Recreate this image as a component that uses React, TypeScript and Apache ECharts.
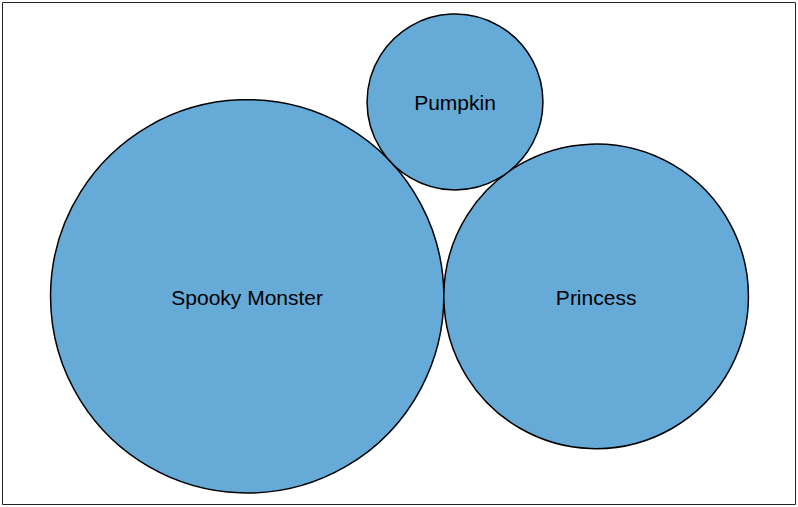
import React, { useEffect, useRef } from "react";
import * as echarts from "echarts";

const categories = ["Spooky Monster", "Princess", "Pumpkin"];
const values = [5, 3, 1];

const W = 798;
const H = 507;
const PAD = 14;

function packThree(vals: number[]) {
  // radii proportional to sqrt(value)
  const r = vals.map((v) => Math.sqrt(v));
  const dAB = r[0] + r[1];
  const dAC = r[0] + r[2];
  const dBC = r[1] + r[2];
  const cx = (dAC * dAC - dBC * dBC + dAB * dAB) / (2 * dAB);
  const cy = -Math.sqrt(Math.max(0, dAC * dAC - cx * cx));
  const pts = [
    [0, 0],
    [dAB, 0],
    [cx, cy],
  ];
  let minX = Infinity, maxX = -Infinity, minY = Infinity, maxY = -Infinity;
  pts.forEach((p, i) => {
    minX = Math.min(minX, p[0] - r[i]);
    maxX = Math.max(maxX, p[0] + r[i]);
    minY = Math.min(minY, p[1] - r[i]);
    maxY = Math.max(maxY, p[1] + r[i]);
  });
  const s = Math.min((W - 2 * PAD) / (maxX - minX), (H - 2 * PAD) / (maxY - minY));
  const offX = W / 2 + 0.5 - ((minX + maxX) / 2) * s;
  const offY = H / 2 - ((minY + maxY) / 2) * s;
  return pts.map((p, i) => ({
    x: p[0] * s + offX,
    y: p[1] * s + offY,
    d: 2 * r[i] * s,
  }));
}

export default function App() {
  const ref = useRef<HTMLDivElement>(null);
  useEffect(() => {
    document.body.style.margin = "0";
    if (!ref.current) return;
    const chart = echarts.init(ref.current, null, { renderer: "svg" });
    const packed = packThree(values);
    chart.setOption({
      animation: false,
      grid: { left: 0, top: 0, right: 0, bottom: 0 },
      xAxis: { type: "value", min: 0, max: W, show: false },
      yAxis: { type: "value", min: 0, max: H, inverse: true, show: false },
      graphic: [
        {
          type: "rect",
          shape: { x: 2.5, y: 2.5, width: 793, height: 502 },
          style: { fill: "none", stroke: "#222", lineWidth: 1 },
          silent: true,
        },
      ],
      series: [
        {
          type: "scatter",
          data: packed.map((p, i) => ({
            name: categories[i],
            value: [p.x, p.y, values[i]],
            symbolSize: p.d,
          })),
          itemStyle: {
            color: "#66aad7",
            borderColor: "#000",
            borderWidth: 1.5,
            opacity: 1,
          },
          label: {
            show: true,
            position: "inside",
            formatter: "{b}",
            color: "#000",
            fontSize: 21,
            offset: [0, 1],
            fontFamily: "Liberation Sans, Arial, sans-serif",
          },
          emphasis: { disabled: true },
        },
      ],
    });
    return () => chart.dispose();
  }, []);
  return <div ref={ref} style={{ width: W, height: H }} />;
}
